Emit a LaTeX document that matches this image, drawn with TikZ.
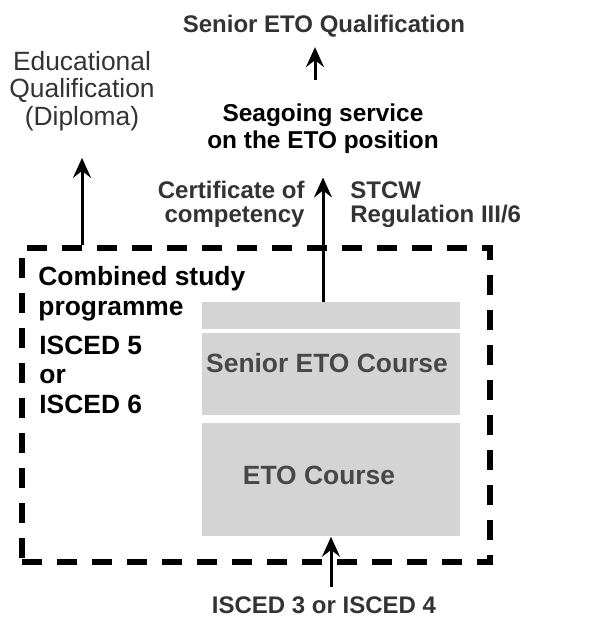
\documentclass[tikz,border=0pt]{standalone}
\usepackage{fontspec}
\setmainfont{Liberation Sans}
\usetikzlibrary{arrows.meta}
\definecolor{coursegray}{HTML}{D4D4D4}
\definecolor{darktext}{HTML}{333333}

\begin{document}
\begin{tikzpicture}[x=0.5pt, y=-0.5pt,
    every node/.style={font=\bfseries\fontsize{12}{12}\selectfont, inner sep=0pt},
    big/.style={font=\bfseries\fontsize{13.2}{14.7}\selectfont},
    course/.style={rectangle, fill=coursegray, minimum width=129pt, anchor=north},
    arr/.style={-{Stealth[length=10pt, width=9pt, inset=3.5pt]}, line width=1.5pt}]
    \useasboundingbox (0,0) rectangle (597,617);

    \node (prog) [rectangle, draw, line width=3.3pt, dash pattern=on 10pt off 7.5pt,
        minimum width=234pt, minimum height=157pt] at (256,405) {};
    \node (strip) [course, minimum height=13.5pt] at (331,302) {};
    \node (senior) [course, minimum height=41pt] at (331,333) {};
    \node (eto) [course, minimum height=56.5pt] at (331,423) {};
    \node [big, text=darktext!90, anchor=base] at (327,372) {Senior ETO Course};
    \node [big, text=darktext!90, anchor=base] at (319,484) {ETO Course};

    \node (comb) [big, anchor=base west, align=left] at (38,315) {Combined study\\programme};
    \node (isced56) [big, anchor=base west, align=left] at (39,413) {ISCED 5\\or\\ISCED 6};

    \node (sea) [anchor=base, align=center, font=\bfseries\fontsize{12.2}{13.2}\selectfont,
        inner ysep=12pt] at (323,148) {Seagoing service\\on the ETO position};
    \node (qual) [anchor=base, text=darktext, inner ysep=5pt] at (324,32) {Senior ETO Qualification};
    \node (edu) [anchor=base, align=center, text=darktext, inner ysep=13.5pt,
        font=\fontsize{13.2}{13.6}\selectfont] at (82,125) {Educational\\Qualification\\(Diploma)};
    \node (cert) [anchor=base east, align=right, text=darktext] at (305,222) {Certificate of\\competency};
    \node (stcw) [anchor=base west, align=left, text=darktext] at (350,222) {STCW\\Regulation III/6};
    \node (isced34) [anchor=base, text=darktext, inner ysep=4.5pt] at (324,613) {ISCED 3 or ISCED 4};

    \draw[arr] (strip.north -| sea.south) -- (sea.south);
    \draw[arr] ([xshift=-4pt]sea.north) -- ([xshift=-4pt]sea.north |- qual.south);
    \draw[arr] (prog.north -| edu.south) -- (edu.south);
    \draw[arr] (isced34.north -| eto.south) -- (eto.south);
\end{tikzpicture}
\end{document}
